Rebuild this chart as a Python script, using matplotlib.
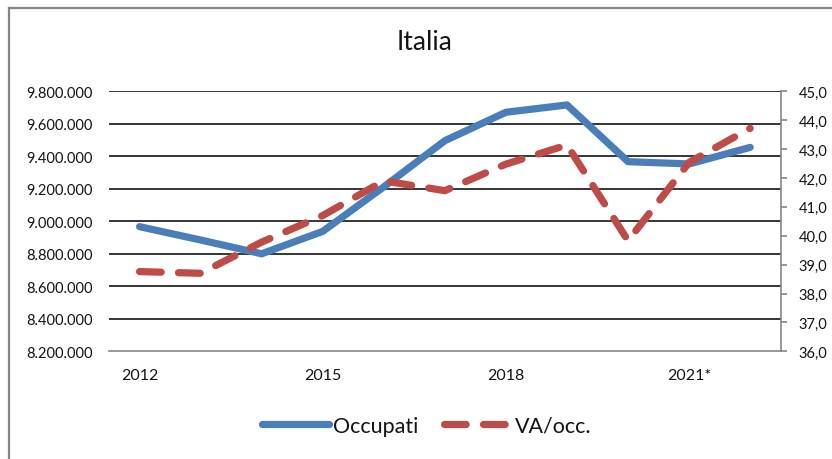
import matplotlib
matplotlib.use("Agg")
import matplotlib.pyplot as plt
from matplotlib.lines import Line2D
from matplotlib.ticker import FuncFormatter, MultipleLocator

plt.rcParams["font.family"] = ["Lato", "DejaVu Sans"]

# data
years = ["2012", "2013", "2014", "2015", "2016", "2017", "2018", "2019", "2020", "2021*", "2022*"]
occupati = [8967000, 8885000, 8800000, 8938000, 9212000, 9496000, 9671000, 9716000, 9367000, 9353000, 9455000]
va_occ = [38.76, 38.70, 39.78, 40.70, 41.90, 41.56, 42.48, 43.14, 39.83, 42.54, 43.72]
shown_years = ["2012", "2015", "2018", "2021*"]

BLUE = "#4A7EBB"
RED = "#BE4B48"
GREY = "#868686"
TXT = "#141414"

fig = plt.figure(figsize=(8.32, 4.60), dpi=100)
ax = fig.add_axes([109 / 832, 1 - 352.3 / 460, (780.7 - 109) / 832, (352.3 - 92.3) / 460])
ax2 = ax.twinx()

x = list(range(len(years)))

# gridlines follow the left axis
for v in range(8400000, 9800001, 200000):
    ax.axhline(v, color="black", lw=1.1, zorder=0)

ax.plot(x, occupati, color=BLUE, lw=5.2, solid_capstyle="round",
        solid_joinstyle="round", label="Occupati", zorder=3)
ax2.plot(x, va_occ, color=RED, lw=5.2, dashes=(3.0, 2.4), dash_capstyle="round",
         solid_capstyle="round", label="VA/occ.", zorder=3)

ax.set_xlim(-0.5, len(years) - 0.5)
ax.set_ylim(8200000, 9800000)
ax2.set_ylim(36, 45)

ax.yaxis.set_major_locator(MultipleLocator(200000))
ax.yaxis.set_major_formatter(FuncFormatter(lambda v, p: f"{int(round(v)):,}".replace(",", ".")))
ax2.yaxis.set_major_locator(MultipleLocator(1))
ax2.yaxis.set_major_formatter(FuncFormatter(lambda v, p: f"{v:.1f}".replace(".", ",")))

ax.set_xticks([years.index(y) for y in shown_years])
ax.set_xticklabels(shown_years)

ax.tick_params(axis="x", length=0, pad=12, labelsize=11.5, labelcolor=TXT)
ax.tick_params(axis="y", length=0, pad=12, labelsize=10.5, labelcolor=TXT)
ax2.tick_params(axis="y", length=4, width=1.2, color=GREY, pad=9, labelsize=10.5, labelcolor=TXT)

for a in (ax, ax2):
    for s in ("top", "left", "right", "bottom"):
        a.spines[s].set_visible(False)
ax2.spines["right"].set_visible(True)
ax2.spines["right"].set_color(GREY)
ax2.spines["right"].set_linewidth(1.2)
ax.spines["bottom"].set_visible(True)
ax.spines["bottom"].set_color(GREY)
ax.spines["bottom"].set_linewidth(1.2)

fig.text(425 / 832, 1 - 43 / 460, "Italia", ha="center", va="center", fontsize=19, color=TXT)

h1, l1 = ax.get_legend_handles_labels()
h2, l2 = ax2.get_legend_handles_labels()
fig.legend(h1 + h2, l1 + l2, loc="center", bbox_to_anchor=(427 / 832, 1 - 427 / 460),
           ncol=2, frameon=False, fontsize=15.5, handlelength=3.1, handletextpad=0.2,
           columnspacing=1.2, labelcolor=TXT)

# chart border (only top and left edges are visible in the crop)
fig.add_artist(Line2D([9 / 832, 9 / 832], [0, 1 - 9 / 460], color=GREY, lw=1.6))
fig.add_artist(Line2D([9 / 832, 1], [1 - 9 / 460, 1 - 9 / 460], color=GREY, lw=1.6))

fig.savefig("out.png", dpi=100)
